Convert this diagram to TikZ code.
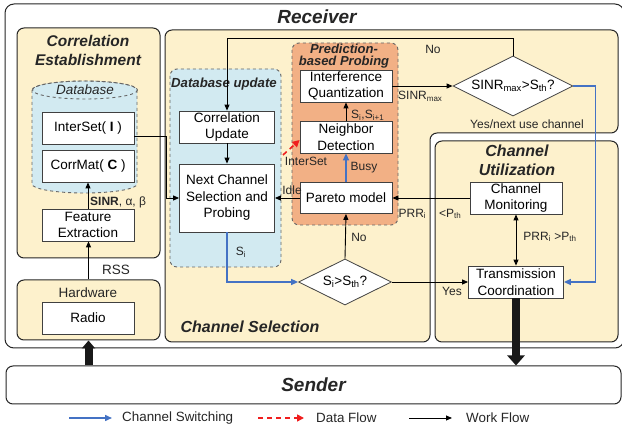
\documentclass[tikz,border=0pt]{standalone}
\usepackage{fontspec}
\setmainfont{Liberation Sans}
\usepackage{tikz}
\usetikzlibrary{arrows.meta,shapes.geometric}

\definecolor{regyellow}{HTML}{FDF1CC}
\definecolor{dbblue}{HTML}{D2EAF1}
\definecolor{probeorange}{HTML}{F2B085}
\definecolor{swblue}{HTML}{4472C4}
\definecolor{flowred}{HTML}{F01E1E}

\tikzset{
  blk/.style={draw=black!75, line width=0.8pt, fill=white, align=center, inner sep=1pt, minimum width=92pt, minimum height=32pt, font=\fontsize{13.5}{16.5}\selectfont},
  cond/.style={diamond, draw=black!75, line width=0.8pt, fill=white, inner sep=0pt, aspect=2, font=\fontsize{13.5}{16.5}\selectfont},
  lbl/.style={inner sep=0pt, text=black!85, font=\fontsize{12}{14}\selectfont},
  ttl/.style={align=center, inner sep=0pt, text=black!85, font=\bfseries\itshape\fontsize{15.5}{19}\selectfont},
  wflow/.style={-{Triangle[length=6pt,width=5pt]}, line width=0.9pt},
  sflow/.style={-{Triangle[length=7pt,width=6pt]}, line width=1.5pt, draw=swblue},
  dflow/.style={-{Triangle[length=7pt,width=7pt]}, line width=1.6pt, draw=flowred, dash pattern=on 5pt off 4pt},
  region/.style={draw=black!85, line width=1pt, rounded corners=7pt},
  dregion/.style={draw=black!60, line width=0.9pt, dashed, rounded corners=7pt}
}

\begin{document}
\begin{tikzpicture}[x=1pt,y=-1pt]
\useasboundingbox (0,0) rectangle (622,435);
\draw[region, fill=white, rounded corners=9pt] (5,4) rectangle (624,348);
\node[ttl, font=\bfseries\itshape\fontsize{19}{22}\selectfont] (rcv) at (317,17) {Receiver};

\draw[region, fill=regyellow] (17,28) rectangle (160,258);
\node[region, fill=regyellow, minimum width=143pt, minimum height=60pt] (hw) at (88.5,310) {};
\draw[region, fill=regyellow] (165,30) -- (618,30) -- (618,133) -- (430,133) -- (430,342) -- (165,342) -- cycle;
\draw[region, fill=regyellow] (435,141) rectangle (618,342);
\draw[dregion, fill=dbblue] (170,69) rectangle (281,267);
\draw[dregion, fill=probeorange] (292,43) rectangle (398,225);

\draw[draw=black!60, line width=0.9pt, dashed, fill=dbblue] (32,90) -- (32,184) arc[start angle=180, end angle=0, x radius=52.5, y radius=9] -- (137,90) arc[start angle=0, end angle=-180, x radius=52.5, y radius=9] -- cycle;
\draw[draw=black!60, line width=0.9pt, dashed] (85,90) ellipse [x radius=52.5, y radius=9];
\node[lbl, font=\itshape\fontsize{13.5}{16}\selectfont] (dbl) at (85,90) {Database};

\node[ttl] (cet) at (88,50) {Correlation\\Establishment};
\node[ttl, font=\bfseries\itshape\fontsize{16}{19}\selectfont] (cst) at (250,327) {Channel Selection};
\node[ttl, font=\bfseries\itshape\fontsize{16}{19}\selectfont] (cut) at (517,160) {Channel\\Utilization};
\node[ttl, font=\bfseries\itshape\fontsize{13.2}{15}\selectfont] (dut) at (224,84) {Database update};
\node[ttl, font=\bfseries\itshape\fontsize{13}{11.5}\selectfont] (pbt) at (344,56) {Prediction-\\based Probing};

\node[blk] (intset) at (88,128) {InterSet( \textbf{I} )};
\node[blk] (corrmat) at (88,166) {CorrMat( \textbf{C} )};
\node[blk] (feat) at (88,225) {Feature\\Extraction};
\node[blk] (radio) at (88,318) {Radio};
\node[lbl, font=\fontsize{13.5}{16}\selectfont] (hwl) at (88,293) {Hardware};

\node[blk, minimum width=95pt] (corrupd) at (227,127) {Correlation\\Update};
\node[blk, minimum width=95pt, minimum height=68pt] (nextch) at (227,198) {Next Channel\\Selection and\\Probing};
\node[blk] (interq) at (346,86) {Interference\\Quantization};
\node[blk] (neigh) at (346,137) {Neighbor\\Detection};
\node[blk, minimum height=31pt] (pareto) at (346,198) {Pareto model};
\node[cond, minimum width=120pt, minimum height=60pt] (dsinr) at (513,86) {SINR\textsubscript{max}>S\textsubscript{th}?};
\node[cond, minimum width=93pt, minimum height=46pt] (dsi) at (345,282) {S\textsubscript{i}>S\textsubscript{th}?};
\node[blk] (chmon) at (516,198) {Channel\\Monitoring};
\node[blk, minimum width=95pt] (trans) at (516,282) {Transmission\\Coordination};

\node[draw=black!85, line width=1pt, rounded corners=7pt, fill=white, minimum width=615pt, minimum height=38pt, font=\bfseries\itshape\fontsize{19}{22}\selectfont, text=black!85] (sender) at (313.5,385) {Sender};

\draw[wflow] (hw.north) -- (hw.north |- feat.south);
\node[lbl, font=\fontsize{13.5}{16}\selectfont] (rss) at (116,270) {RSS};
\draw[wflow] (feat) -- (corrmat);
\node[lbl, anchor=west] (sab) at (90,202) {\textbf{SINR}, α, β};
\draw[wflow] ([yshift=-8pt]intset.east) -- ++(32,0) |- (nextch.west);
\draw[wflow] (corrupd) -- (nextch);
\draw[wflow] (dsinr.north) -- ++(0,-17) -| (corrupd.north);
\node[lbl] (nol) at (433,49) {No};
\draw[wflow] (interq.east) -- (dsinr.west);
\node[lbl, anchor=west] (smx) at (398,96) {SINR\textsubscript{max}};
\draw[wflow] (neigh) -- (interq);
\node[lbl, anchor=west] (ssl) at (351,115) {S\textsubscript{i},S\textsubscript{i+1}};
\draw[sflow] (pareto) -- (neigh);
\node[lbl] (busy) at (364,168) {Busy};
\draw[wflow] (pareto) -- (nextch);
\node[lbl] (idle) at (292,190) {Idle};
\coordinate (dfs) at (283,155);
\draw[dflow] (dfs) -- ([yshift=-3pt]neigh.west);
\node[lbl] (isl) at (306,161) {InterSet};
\draw[sflow] (nextch.south) |- (dsi.west);
\node[lbl] (sil) at (241,252) {S\textsubscript{i}};
\draw[wflow] (dsi.north) -- (pareto.south);
\node[lbl] (no2) at (359,237) {No};
\draw[wflow] (dsi.east) -- (trans.west);
\node[lbl] (yes) at (452,291) {Yes};
\draw[wflow] (chmon.west) -- (pareto.east);
\node[lbl] (prl) at (430,214) {PRR\textsubscript{i}\hspace{13pt}<P\textsubscript{th}};
\draw[{Triangle[length=6pt,width=5pt]}-{Triangle[length=6pt,width=5pt]}, line width=0.9pt] (chmon) -- (trans);
\node[lbl] (prg) at (550,237) {PRR\textsubscript{i} >P\textsubscript{th}};
\draw[sflow] (dsinr.east) -- ++(22,0) |- (trans.east);
\node[lbl] (ynl) at (527,124) {Yes/next use channel};
\draw[line width=8pt, draw=black!90, -{Triangle[width=13pt,length=8pt]}] (sender.north -| hw.south) -- (hw.south);
\draw[line width=8pt, draw=black!90, -{Triangle[width=17pt,length=10pt]}] (trans.south) -- (trans.south |- sender.north);

\coordinate (cs1) at (69,418);
\coordinate (cs2) at (112,418);
\draw[sflow] (cs1) -- (cs2);
\node[lbl, anchor=west, font=\fontsize{13.4}{16}\selectfont] (csl) at (122,418) {Channel Switching};
\coordinate (df1) at (258,418);
\coordinate (df2) at (304,418);
\draw[dflow] (df1) -- (df2);
\node[lbl, anchor=west, font=\fontsize{13.4}{16}\selectfont] (dfl) at (316,418) {Data Flow};
\coordinate (wf1) at (409,418);
\coordinate (wf2) at (452,418);
\draw[wflow] (wf1) -- (wf2);
\node[lbl, anchor=west, font=\fontsize{13.4}{16}\selectfont] (wfl) at (466,418) {Work Flow};
\end{tikzpicture}
\end{document}
